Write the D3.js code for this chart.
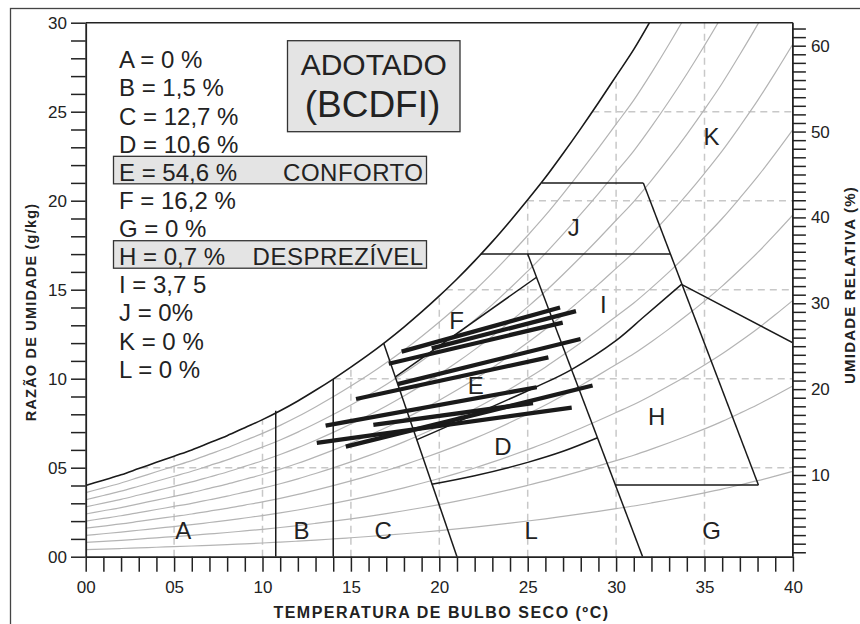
<!DOCTYPE html>
<html><head><meta charset="utf-8">
<script src="https://cdn.jsdelivr.net/npm/d3@7/dist/d3.min.js"></script>
<style>
body{margin:0;background:#fff}
svg{display:block}
text{font-family:"Liberation Sans",Arial,Helvetica,sans-serif;fill:#222}
</style>
</head><body>
<svg id="c" width="860" height="624"></svg>
<script>
// ---------- DATA ----------
// saturation curve (humidity ratio g/kg)
const satT = [0,1,2,3,4,5,6,7,8,9,10,11,12,13,14,15,16,17,18,19,20,21,22,23,24,25,26,27,28,29,30,31,32,33,34,35,36,37,38,39,40];
const satW = [4.0,4.3,4.6,4.95,5.3,5.65,6.0,6.4,6.8,7.25,7.7,8.2,8.75,9.35,9.98,10.65,11.35,12.1,12.9,13.75,14.65,15.6,16.62,17.7,18.85,20.05,21.3,22.65,24.05,25.5,27.0,28.5,30.2,32.0,33.9,35.9,38.0,40.3,42.7,45.3,48.0];
// relative humidity curves (%)
const rhLevels = [10,20,30,40,50,60,70,80,90];
// axes
const xTicks = [0,1,2,3,4,5,6,7,8,9,10,11,12,13,14,15,16,17,18,19,20,21,22,23,24,25,26,27,28,29,30,31,32,33,34,35,36,37,38,39,40];
const xTickLabels = ["00","05","10","15","20","25","30","35","40"];
const yTickLabels = ["00","05","10","15","20","25","30"];
const rTickLabels = ["10","20","30","40","50","60"];
const gridT = [5,10,15,20,25,30,35];
const gridW = [5,10,15,20,25];
// zone boundaries (T °C, W g/kg)
const lineB = [[10.75,0],[10.75,8.2]];
const lineC = [[14,0],[14,9.98]];
const lineCE = [[21.0,0],[16.85,12.0]];
const lineEright = [[31.5,0],[25.0,17.0]];
const lineJbottom = [[22.35,17.0],[33.05,17.0]];
const lineJtop = [[25.8,21.0],[31.54,21.0]];
const lineKleft = [[31.54,21.0],[38.05,4.03]];
const lineHbottom = [[29.96,4.03],[38.05,4.03]];
const lineKlow = [[33.7,15.3],[40,12.02]];
const lineFE = [[17.52,10.1],[25.5,15.7]];
const curveDEI = [[18.71,6.56],[25.5,9.55],[27.45,10.5],[30.03,12.17],[31.54,13.45],[33.7,15.3]];
const curveDL = [[19.57,4.07],[22,4.55],[25,5.3],[27,5.92],[28.95,6.68]];
// climate lines (min -> max)
const climT1 = [17.87,19.57,17.14,17.64,15.29,13.57,16.27,13.07,14.71];
const climW1 = [11.52,11.70,10.84,9.70,8.86,7.36,7.40,6.40,6.18];
const climT2 = [26.83,27.73,26.98,27.99,26.17,25.51,25.30,27.49,28.67];
const climW2 = [14.00,13.80,13.15,12.23,11.20,9.52,8.63,8.38,9.62];
// zone letters
const zoneNames = ["A","B","C","L","G","D","E","H","I","F","J","K"];
const zoneT = [5.52,12.2,16.83,25.2,35.4,23.6,22.06,32.3,29.28,20.98,27.6,35.4];
const zoneW = [1.5,1.5,1.5,1.5,1.5,6.2,9.65,7.87,14.2,13.3,18.5,23.6];
// legend
const legendText = ["A = 0 %","B = 1,5 %","C = 12,7 %","D = 10,6 %","E = 54,6 %","F = 16,2 %","G = 0 %","H = 0,7 %","I = 3,7 5","J = 0%","K = 0 %","L = 0 %"];
const legendNote = ["","","","","CONFORTO","","","DESPREZÍVEL","","","",""];
const adotado = ["ADOTADO","(BCDFI)"];

// ---------- SCALES ----------
const svg = d3.select("#c");
const x = d3.scaleLinear().domain([0,40]).range([85.7,792.9]);
const y = d3.scaleLinear().domain([0,30]).range([556.7,22.7]);
const yR = d3.scaleLinear().domain([10,60]).range([475,45.7]);
const satAt = d3.scaleLinear().domain(satT).range(satW);
const tAtSat = d3.scaleLinear().domain(satW).range(satT);

// outer frame
svg.append("rect").attr("x",10.5).attr("y",8.5).attr("width",880).attr("height",640)
  .attr("fill","none").attr("stroke","#444").attr("stroke-width",1.3);

svg.append("clipPath").attr("id","plot").append("rect")
  .attr("x",x(0)).attr("y",y(30)).attr("width",x(40)-x(0)).attr("height",y(0)-y(30));
const g = svg.append("g").attr("clip-path","url(#plot)");

// dashed grid under saturation curve
gridT.forEach(t=>{
  g.append("line").attr("x1",x(t)).attr("x2",x(t)).attr("y1",y(0)).attr("y2",y(Math.min(30,satAt(t))))
   .attr("stroke","#c8c8c8").attr("stroke-width",1.5).attr("stroke-dasharray","7,5");
});
gridW.forEach(w=>{
  g.append("line").attr("x1",x(tAtSat(w))).attr("x2",x(40)).attr("y1",y(w)).attr("y2",y(w))
   .attr("stroke","#c8c8c8").attr("stroke-width",1.5).attr("stroke-dasharray","7,5");
});

// RH curves
const lineGen = d3.line().x(d=>x(d[0])).y(d=>y(d[1])).curve(d3.curveMonotoneX);
rhLevels.forEach(rh=>{
  g.append("path").attr("d",lineGen(satT.map((t,i)=>[t,satW[i]*rh/100])))
   .attr("fill","none").attr("stroke","#b4b4b4").attr("stroke-width",1.2);
});
// saturation
g.append("path").attr("d",lineGen(satT.map((t,i)=>[t,satW[i]])))
  .attr("fill","none").attr("stroke","#1a1a1a").attr("stroke-width",1.6);

// zone lines
const straight = d3.line().x(d=>x(d[0])).y(d=>y(d[1]));
const smooth = d3.line().x(d=>x(d[0])).y(d=>y(d[1])).curve(d3.curveCatmullRom);
[lineB,lineC,lineCE,lineEright,lineJbottom,lineJtop,lineKleft,lineHbottom,lineKlow,lineFE].forEach(l=>{
  g.append("path").attr("d",straight(l)).attr("fill","none").attr("stroke","#1a1a1a").attr("stroke-width",1.5);
});
[curveDEI,curveDL].forEach(l=>{
  g.append("path").attr("d",smooth(l)).attr("fill","none").attr("stroke","#1a1a1a").attr("stroke-width",1.5);
});

// climate lines
climT1.forEach((t,i)=>{
  g.append("line").attr("x1",x(t)).attr("y1",y(climW1[i])).attr("x2",x(climT2[i])).attr("y2",y(climW2[i]))
   .attr("stroke","#1a1a1a").attr("stroke-width",4.3);
});

// zone letters
zoneNames.forEach((n,i)=>{
  svg.append("text").attr("x",x(zoneT[i])).attr("y",y(zoneW[i])).attr("dy","0.36em")
    .attr("text-anchor","middle").attr("font-size",24).text(n);
});

// plot frame top
svg.append("line").attr("x1",x(0)).attr("x2",x(40)).attr("y1",y(30)).attr("y2",y(30))
  .attr("stroke","#222").attr("stroke-width",1.6);

// axes
const axL = d3.axisLeft(y).tickValues(d3.range(0,31)).tickSize(14.7).tickSizeOuter(0).tickPadding(4)
  .tickFormat(d=> d%5===0 ? yTickLabels[d/5] : "");
const gl = svg.append("g").attr("transform",`translate(${x(0)},0)`).call(axL);
const axB = d3.axisBottom(x).tickValues(xTicks).tickSize(15).tickSizeOuter(0).tickPadding(9)
  .tickFormat(d=> d%5===0 ? xTickLabels[d/5] : "");
const gb = svg.append("g").attr("transform",`translate(0,${y(0)})`).call(axB);
const axR = d3.axisRight(yR).tickValues(d3.range(1,63)).tickSize(13).tickSizeOuter(0).tickPadding(5)
  .tickFormat(d=> d%10===0 ? rTickLabels[d/10-1] : "");
const gr = svg.append("g").attr("transform",`translate(${x(40)},0)`).call(axR);
[gl,gb,gr].forEach(a=>{
  a.select(".domain").attr("stroke","#222").attr("stroke-width",1.8);
  a.selectAll(".tick line").attr("stroke","#222").attr("stroke-width",1.5);
  a.selectAll(".tick text").attr("font-size",17).attr("fill","#222")
   .attr("font-family","'Liberation Sans',Arial,sans-serif");
});
gr.select(".domain").attr("d",`M0,${y(0)}V${y(30)}`);

// axis titles
svg.append("text").attr("transform",`translate(36,312) rotate(-90)`).attr("text-anchor","middle")
  .attr("font-size",14.5).attr("font-weight","bold").attr("letter-spacing",1.2).text("RAZÃO DE UMIDADE (g/kg)");
svg.append("text").attr("transform",`translate(855,285) rotate(-90)`).attr("text-anchor","middle")
  .attr("font-size",15).attr("font-weight","bold").attr("letter-spacing",1.2).text("UMIDADE RELATIVA (%)");
svg.append("text").attr("x",441.5).attr("y",618).attr("text-anchor","middle")
  .attr("font-size",16).attr("font-weight","bold").attr("letter-spacing",1.5).text("TEMPERATURA DE BULBO SECO (ºC)");

// legend boxes
[4,7].forEach(i=>{
  const by = 68.3 + i*28.13;
  svg.append("rect").attr("x",113.5).attr("y",by-24.5).attr("width",313).attr("height",27.5)
    .attr("fill","#e4e4e4").attr("stroke","#333").attr("stroke-width",1.3);
});
legendText.forEach((t,i)=>{
  const by = 68.3 + i*28.13;
  svg.append("text").attr("x",119).attr("y",by).attr("font-size",24).text(t);
  if(legendNote[i]) svg.append("text").attr("x",423.5).attr("y",by).attr("text-anchor","end").attr("font-size",24).attr("letter-spacing",0.5).text(legendNote[i]);
});
// ADOTADO box
svg.append("rect").attr("x",287.5).attr("y",40.7).attr("width",172.5).attr("height",91)
  .attr("fill","#e4e4e4").attr("stroke","#333").attr("stroke-width",1.3);
svg.append("text").attr("x",373.7).attr("y",75).attr("text-anchor","middle").attr("font-size",30).text(adotado[0]);
svg.append("text").attr("x",372.5).attr("y",117).attr("text-anchor","middle").attr("font-size",37).text(adotado[1]);
</script>
</body></html>
